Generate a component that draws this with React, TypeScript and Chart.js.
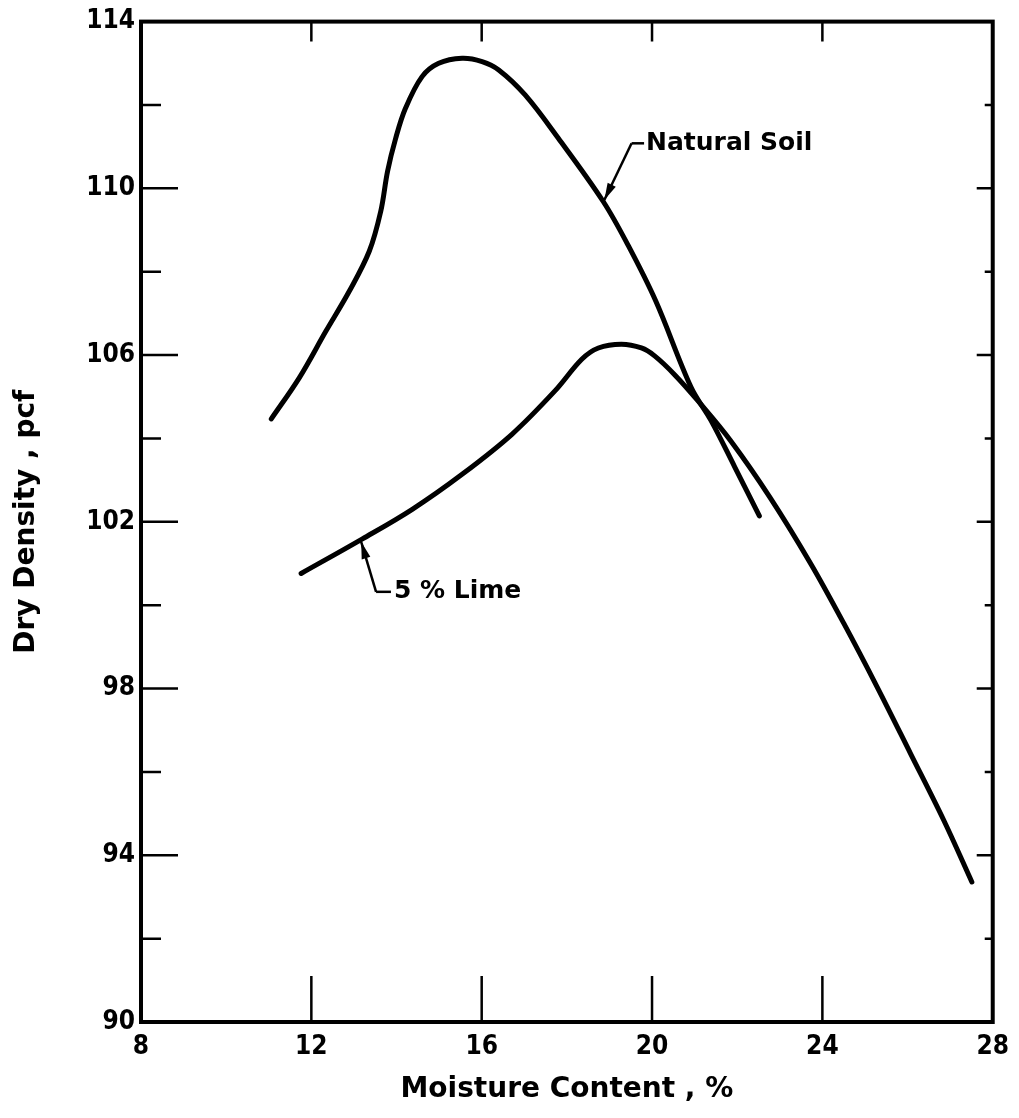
import React, { useEffect, useRef } from 'react';
import { Chart, registerables } from 'chart.js';

Chart.register(...registerables);

// ---- data ----
const naturalMoisture = [11.06, 11.72, 12.34, 12.89, 13.36, 13.63, 13.79, 13.98, 14.21, 14.6, 14.99, 15.54, 16.01, 16.4, 17.02, 17.8, 18.85, 19.44, 20.09, 20.92, 21.38, 21.94, 22.52];
const naturalDensity = [104.47, 105.46, 106.57, 107.53, 108.49, 109.45, 110.41, 111.2, 111.92, 112.68, 113.0, 113.12, 113.04, 112.84, 112.24, 111.2, 109.69, 108.63, 107.29, 105.22, 104.44, 103.32, 102.14];

const limeMoisture = [11.76, 13.2, 14.37, 15.54, 16.71, 17.72, 18.35, 18.74, 19.28, 19.75, 20.06, 20.53, 21.08, 21.85, 22.78, 23.73, 24.51, 25.29, 26.07, 26.85, 27.51];
const limeDensity = [100.76, 101.59, 102.3, 103.14, 104.1, 105.14, 105.9, 106.17, 106.26, 106.17, 105.98, 105.53, 104.9, 103.94, 102.57, 100.99, 99.55, 98.03, 96.44, 94.84, 93.36];

const xTickLabels = ['8', '12', '16', '20', '24', '28'];
const yTickLabels = ['90', '94', '98', '102', '106', '110', '114'];

const xTitle = 'Moisture Content , %';
const yTitle = 'Dry Density , pcf';

const naturalLabel = 'Natural Soil';
const limeLabel = '5 % Lime';

const FONT = '"DejaVu Sans Condensed", "DejaVu Sans", sans-serif';
const TITLE_FONT = '"DejaVu Sans", sans-serif';

function toPoints(xs: number[], ys: number[]) {
  return xs.map((x, i) => ({ x, y: ys[i] }));
}

function drawArrow(ctx: CanvasRenderingContext2D, fx: number, fy: number, tx: number, ty: number) {
  ctx.beginPath();
  ctx.moveTo(fx, fy);
  ctx.lineTo(tx, ty);
  ctx.stroke();
  const ang = Math.atan2(ty - fy, tx - fx);
  const len = 17;
  const w = 4.5;
  const bx = tx - Math.cos(ang) * len;
  const by = ty - Math.sin(ang) * len;
  ctx.beginPath();
  ctx.moveTo(tx, ty);
  ctx.lineTo(bx + Math.sin(ang) * w, by - Math.cos(ang) * w);
  ctx.lineTo(bx - Math.sin(ang) * w, by + Math.cos(ang) * w);
  ctx.closePath();
  ctx.fill();
}

const framePlugin = {
  id: 'frameTicks',
  afterDraw(chart: any) {
    const { ctx, chartArea: a, scales } = chart;
    const xs = scales.x;
    const ys = scales.y;
    ctx.save();
    ctx.strokeStyle = '#000';
    ctx.fillStyle = '#000';
    // inward ticks
    ctx.lineWidth = 2.5;
    ys.ticks.forEach((t: any) => {
      const v = t.value;
      if (v <= ys.min || v >= ys.max) return;
      const major = yTickLabels.includes(String(v));
      const py = ys.getPixelForValue(v);
      ctx.beginPath();
      ctx.moveTo(a.left, py);
      ctx.lineTo(a.left + (major ? 37 : 20), py);
      ctx.moveTo(a.right, py);
      ctx.lineTo(a.right - (major ? 16 : 8), py);
      ctx.stroke();
    });
    xs.ticks.forEach((t: any) => {
      const v = t.value;
      if (v <= xs.min || v >= xs.max) return;
      const px = xs.getPixelForValue(v);
      ctx.beginPath();
      ctx.moveTo(px, a.bottom);
      ctx.lineTo(px, a.bottom - 46);
      ctx.moveTo(px, a.top);
      ctx.lineTo(px, a.top + 20);
      ctx.stroke();
    });
    // frame
    ctx.lineWidth = 4;
    ctx.strokeRect(a.left, a.top, a.right - a.left, a.bottom - a.top);

    // annotations
    ctx.lineWidth = 2.5;
    ctx.font = `bold 25px ${TITLE_FONT}`;
    ctx.textBaseline = 'middle';
    ctx.textAlign = 'left';
    // Natural Soil
    {
      const tx = xs.getPixelForValue(19.86);
      const ty = ys.getPixelForValue(111.08);
      const cx = xs.getPixelForValue(19.52);
      ctx.fillText(naturalLabel, tx, ty);
      ctx.beginPath();
      ctx.moveTo(cx, ty);
      ctx.lineTo(tx - 2, ty);
      ctx.stroke();
      drawArrow(ctx, cx, ty, xs.getPixelForValue(18.88), ys.getPixelForValue(109.72));
    }
    // 5 % Lime
    {
      const tx = xs.getPixelForValue(13.94);
      const ty = ys.getPixelForValue(100.32);
      const cx = xs.getPixelForValue(13.52);
      ctx.fillText(limeLabel, tx, ty);
      ctx.beginPath();
      ctx.moveTo(cx, ty);
      ctx.lineTo(tx - 3, ty);
      ctx.stroke();
      drawArrow(ctx, cx, ty, xs.getPixelForValue(13.17), ys.getPixelForValue(101.52));
    }
    ctx.restore();
  },
};

export default function App() {
  const ref = useRef<HTMLCanvasElement | null>(null);

  useEffect(() => {
    if (!ref.current) return;
    const lineStyle = {
      showLine: true,
      borderColor: '#000',
      borderWidth: 5,
      borderCapStyle: 'round' as const,
      borderJoinStyle: 'round' as const,
      tension: 0.35,
      pointRadius: 0,
      fill: false,
    };
    const chart = new Chart(ref.current, {
      type: 'scatter',
      data: {
        datasets: [
          { label: naturalLabel, data: toPoints(naturalMoisture, naturalDensity), ...lineStyle },
          { label: limeLabel, data: toPoints(limeMoisture, limeDensity), ...lineStyle },
        ],
      },
      options: {
        responsive: false,
        animation: false,
        devicePixelRatio: 1,
        layout: { padding: { top: 20, right: 23, left: 0, bottom: 0 } },
        plugins: {
          legend: { display: false },
          tooltip: { enabled: false },
        },
        scales: {
          x: {
            type: 'linear',
            min: 8,
            max: 28,
            afterFit: (s: any) => { s.height = 96; },
            ticks: {
              stepSize: 4,
              autoSkip: false,
              maxRotation: 0,
              color: '#000',
              padding: 10,
              font: { family: FONT, size: 26, weight: 'bold' },
              callback: (v: any) => (xTickLabels.includes(String(v)) ? String(v) : ''),
            },
            grid: { display: false, drawTicks: false },
            border: { display: false },
            title: {
              display: true,
              text: xTitle,
              color: '#000',
              font: { family: TITLE_FONT, size: 28, weight: 'bold' },
              padding: { top: 0, bottom: 11 },
            },
          },
          y: {
            type: 'linear',
            min: 90,
            max: 114,
            afterFit: (s: any) => { s.width = 141; },
            ticks: {
              stepSize: 2,
              autoSkip: false,
              color: '#000',
              padding: 6,
              font: { family: FONT, size: 26, weight: 'bold' },
              callback: (v: any) => (yTickLabels.includes(String(v)) ? String(v) : ''),
            },
            grid: { display: false, drawTicks: false },
            border: { display: false },
            title: {
              display: true,
              text: yTitle,
              color: '#000',
              font: { family: TITLE_FONT, size: 28, weight: 'bold' },
              padding: { top: 10, bottom: 0 },
            },
          },
        },
      },
      plugins: [framePlugin],
    });
    return () => chart.destroy();
  }, []);

  return (
    <div style={{ position: 'fixed', left: 0, top: 0, width: 1019, height: 1118, background: '#fff' }}>
      <canvas ref={ref} width={1019} height={1118} style={{ display: 'block' }} />
    </div>
  );
}
